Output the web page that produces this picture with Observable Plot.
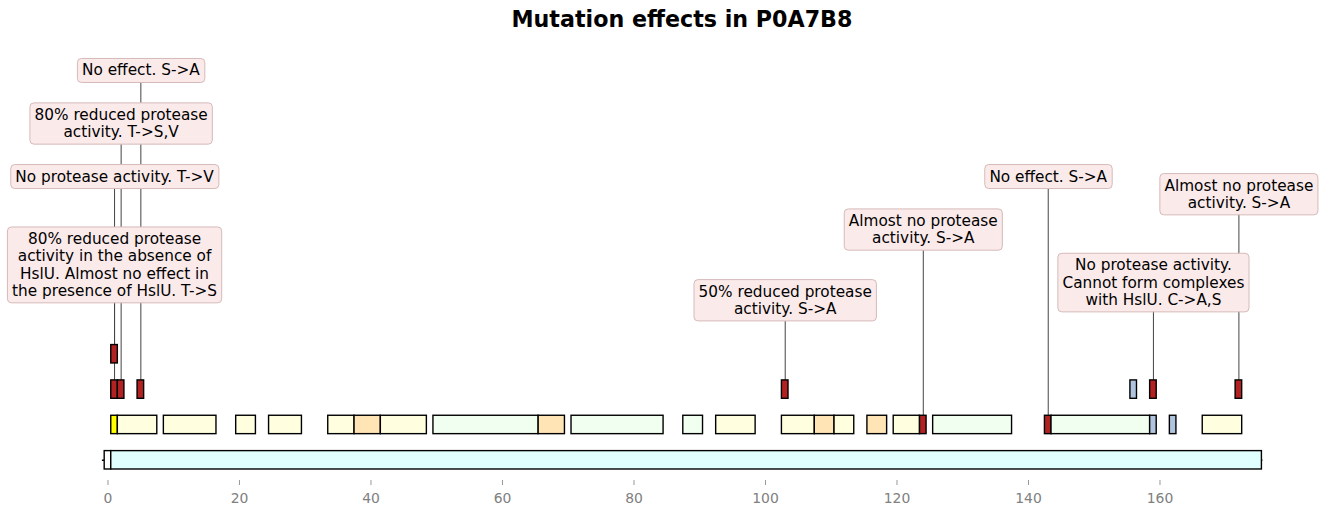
<!DOCTYPE html>
<html>
<head>
<meta charset="utf-8">
<script src="https://cdn.jsdelivr.net/npm/d3@7"></script>
<script src="https://cdn.jsdelivr.net/npm/@observablehq/plot@0.6"></script>
<style>
  body { margin: 0; background: #fff; font-family: "DejaVu Sans", sans-serif; }
  #title { margin-left: 40px; width: 1284px; height: 38px; line-height: 38px; text-align: center;
           font-weight: bold; font-size: 22.2px; color: #000; }
  #chart svg { display: block; }
</style>
</head>
<body>
<div id="title">Mutation effects in P0A7B8</div>
<div id="chart"></div>
<script>
// ---- data ----
const sequenceLength = 176;
const typeNames  = ["Initiator methionine", "Chain", "Active site", "Beta strand", "Helix", "Turn", "Binding site", "Mutagenesis"];
const typeColors = ["#ffffff", "#e0ffff", "#ffff00", "#ffffe0", "#f0fff0", "#ffe4b5", "#b0c4de", "#b22222"];

const featStart = [1, 2,
  2, 3, 10, 21, 26, 35, 39, 43, 51, 67, 72, 89, 94, 104, 109, 112, 117, 121, 125, 127, 144, 145, 160, 163, 168,
  2, 3, 6, 104, 157, 160, 173,
  2];
const featEnd = [1, 176,
  2, 8, 17, 23, 30, 38, 42, 49, 66, 70, 85, 91, 99, 108, 111, 114, 119, 124, 125, 138, 144, 159, 160, 163, 173,
  2, 3, 6, 104, 157, 160, 173,
  2];
const featType = ["Initiator methionine", "Chain",
  "Active site", "Beta strand", "Beta strand", "Beta strand", "Beta strand", "Beta strand", "Turn", "Beta strand",
  "Helix", "Turn", "Helix", "Helix", "Beta strand", "Beta strand", "Turn", "Beta strand", "Turn", "Beta strand",
  "Mutagenesis", "Helix", "Mutagenesis", "Helix", "Binding site", "Binding site", "Beta strand",
  "Mutagenesis", "Mutagenesis", "Mutagenesis", "Mutagenesis", "Binding site", "Mutagenesis", "Mutagenesis",
  "Mutagenesis"];
const featRow = [0, 0,
  1, 1, 1, 1, 1, 1, 1, 1, 1, 1, 1, 1, 1, 1, 1, 1, 1, 1, 1, 1, 1, 1, 1, 1, 1,
  2, 2, 2, 2, 2, 2, 2,
  3];

const mutPos   = [2, 2, 3, 6, 104, 125, 144, 160, 173];
const mutRow   = [3, 2, 2, 2, 2, 1, 1, 2, 2];
const mutLevel = [5.5, 8, 9.5, 11, 4.5, 6.5, 8, 5, 7.5];
const mutText  = [
  "80% reduced protease\nactivity in the absence of\nHslU. Almost no effect in\nthe presence of HslU. T->S",
  "No protease activity. T->V",
  "80% reduced protease\nactivity. T->S,V",
  "No effect. S->A",
  "50% reduced protease\nactivity. S->A",
  "Almost no protease\nactivity. S->A",
  "No effect. S->A",
  "No protease activity.\nCannot form complexes\nwith HslU. C->A,S",
  "Almost no protease\nactivity. S->A"
];
const xTicks = [0, 20, 40, 60, 80, 100, 120, 140, 160];

// ---- derived tables ----
const half = 0.26;
const features = featStart.map((s, i) => ({
  x1: s - 1.5, x2: featEnd[i] - 0.5,
  y1: featRow[i] - half, y2: featRow[i] + half,
  type: featType[i]
}));
const mutations = mutPos.map((p, i) => ({
  x: p - 1, row: mutRow[i], level: mutLevel[i], text: mutText[i]
}));

const plot = Plot.plot({
  width: 1324,
  height: 476,
  marginTop: 0, marginBottom: 34, marginLeft: 0, marginRight: 0,
  style: { fontFamily: "DejaVu Sans", background: "white", overflow: "visible" },
  x: { domain: [-1, sequenceLength], range: [100.9, 1264.7], label: null },
  y: { domain: [0, 12], range: [421.8, -2.4], axis: null },
  color: { domain: typeNames, range: typeColors },
  marks: [
    Plot.ruleY([0], { x1: -0.85, x2: sequenceLength - 0.35, stroke: "black", strokeWidth: 1.4 }),
    Plot.ruleX(mutations, { x: "x", y1: "level", y2: d => d.row + half, stroke: "#444", strokeWidth: 1 }),
    Plot.rect(features, { x1: "x1", x2: "x2", y1: "y1", y2: "y2", fill: "type", stroke: "black", strokeWidth: 1.4 }),
    Plot.text(mutations, { x: "x", y: "level", text: "text", fontSize: 15.3, lineHeight: 1.13, dy: -1.5,
      fill: "black", textAnchor: "middle", lineAnchor: "middle" }),
    Plot.axisX({ ticks: xTicks, tickSize: 5, tickPadding: 7.4, fontSize: 13.9, stroke: "#999", fill: "#808080", label: null })
  ]
});

document.getElementById("chart").append(plot);

// rounded label boxes behind the annotation texts
const flat = new Set(mutText.map(s => s.replace(/\n/g, "")));
Array.from(plot.querySelectorAll("text")).forEach(t => {
  if (!flat.has(t.textContent)) return;
  const b = t.getBBox();
  const r = document.createElementNS("http://www.w3.org/2000/svg", "rect");
  r.setAttribute("x", b.x - 4.6);
  r.setAttribute("y", b.y - 3);
  r.setAttribute("width", b.width + 9.2);
  r.setAttribute("height", b.height + 6);
  r.setAttribute("rx", 4);
  r.setAttribute("fill", "#fbeaea");
  r.setAttribute("stroke", "#d6baba");
  r.setAttribute("stroke-width", 1);
  const tr = t.getAttribute("transform");
  if (tr) r.setAttribute("transform", tr);
  t.parentNode.insertBefore(r, t);
});
</script>
</body>
</html>
